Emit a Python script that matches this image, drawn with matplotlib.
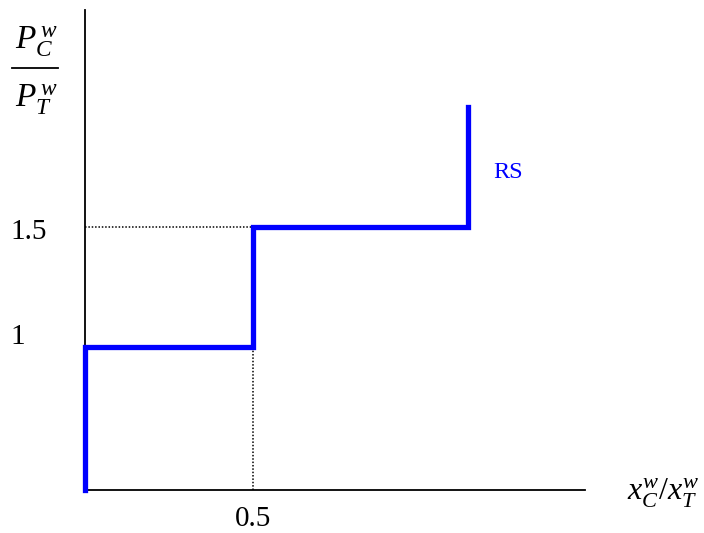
import matplotlib
matplotlib.use("Agg")
import matplotlib.pyplot as plt
from matplotlib.lines import Line2D

plt.rcParams["font.family"] = ["Liberation Serif", "DejaVu Serif"]
plt.rcParams["mathtext.fontset"] = "custom"
plt.rcParams["mathtext.rm"] = "Liberation Serif"
plt.rcParams["mathtext.it"] = "Liberation Serif:italic"

# step curve RS (schematic units)
rs_x = [0, 0, 0.5, 0.5, 1.14, 1.14]
rs_y = [0, 0.816, 0.816, 1.5, 1.5, 2.184]
x_mark = 0.5
y_mark = 1.5
y_low = 0.816
y_ticks = [1.5, 0.9]
y_tick_labels = ["1.5", "1"]

W, H = 704, 533
fig = plt.figure(figsize=(W / 100, H / 100), dpi=100)
ax = fig.add_axes([85 / W, 43 / H, 500 / W, 480 / H])
ax.set_xlim(0, 500 / 336)
ax.set_ylim(0, 480 / 175.33)

for side in ["top", "right"]:
    ax.spines[side].set_visible(False)
ax.spines["left"].set_linewidth(1.3)
ax.spines["bottom"].set_linewidth(1.3)
ax.set_xticks([])
ax.set_yticks([])

# dotted guides
ax.plot([0, x_mark], [y_mark, y_mark], color="black", lw=1.1, ls=(0, (1, 1.2)))
ax.plot([x_mark, x_mark], [0, y_low], color="black", lw=1.1, ls=(0, (1, 1.2)))

ax.plot(rs_x, rs_y, color="#0000ff", lw=3.8, solid_joinstyle="miter",
        clip_on=False, zorder=3)
ax.text(1.215, 1.81, "RS", color="#0000ff", fontsize=17.5, ha="left", va="center")

ytr = ax.get_yaxis_transform()
for yv, lab in zip(y_ticks, y_tick_labels):
    ax.text(-0.15, yv - 0.03, lab, fontsize=21, ha="left", va="center",
            transform=ytr, clip_on=False)
ax.text(x_mark, -0.06, "0.5", fontsize=21, ha="center", va="center",
        transform=ax.get_xaxis_transform(), clip_on=False)

# axis labels
fig.text(36 / W, 1 - 42 / H, r"$P_C^{\,w}$", fontsize=24, ha="center", va="center")
fig.add_artist(Line2D([12 / W, 58 / W], [1 - 68 / H, 1 - 68 / H], color="black", lw=1.3))
fig.text(36 / W, 1 - 100 / H, r"$P_T^{\,w}$", fontsize=24, ha="center", va="center")
fig.text(663 / W, 1 - 493 / H, r"$x_C^w/x_T^w$", fontsize=23, ha="center", va="center")

fig.savefig("out.png", dpi=100)
